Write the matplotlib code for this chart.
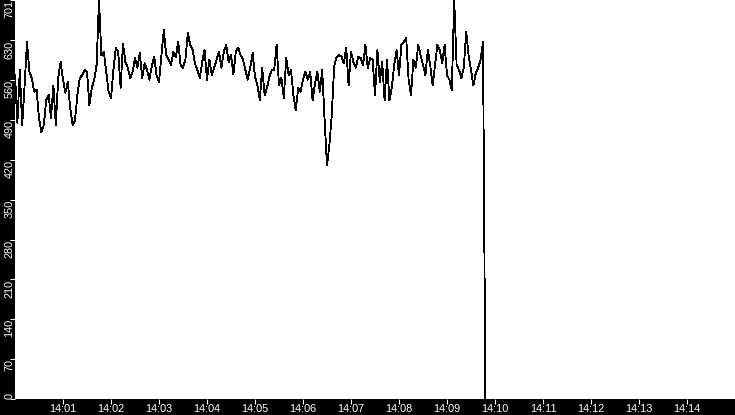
import numpy as np
import matplotlib
matplotlib.use("Agg")
import matplotlib.pyplot as plt
import matplotlib.dates as mdates

# one sample every 3 s from 14:00:00
vals_min0 = [569, 485, 578, 481, 551, 627, 575, 564, 540, 543, 494, 469, 481, 525, 534, 494, 551, 481, 564, 592, 561]
vals_min1 = [538, 557, 511, 481, 490, 534, 564, 569, 578, 575, 516, 547, 561, 587, 701, 604, 610, 575, 540, 529]
vals_min2 = [578, 617, 610, 547, 624, 592, 582, 564, 575, 599, 582, 608, 564, 590, 578, 561, 585, 601, 568, 557]
vals_min3 = [604, 648, 604, 596, 587, 610, 601, 627, 587, 582, 596, 643, 622, 613, 589, 578, 564, 592, 613, 561]
vals_min4 = [596, 569, 582, 596, 610, 582, 610, 622, 592, 604, 571, 610, 617, 604, 596, 578, 561, 582, 608, 566]
vals_min5 = [551, 525, 582, 534, 547, 566, 578, 578, 622, 551, 564, 529, 599, 569, 578, 534, 507, 547, 540, 561]
vals_min6 = [575, 561, 575, 525, 555, 575, 540, 578, 490, 411, 446, 500, 585, 601, 604, 602, 590, 617, 551, 610]
vals_min7 = [592, 582, 601, 599, 587, 622, 582, 599, 596, 534, 613, 557, 592, 525, 596, 525, 547, 587, 613, 569]
vals_min8 = [622, 627, 634, 561, 534, 596, 582, 622, 604, 587, 569, 613, 587, 551, 587, 622, 613, 590, 622, 569]
vals_min9 = [561, 543, 701, 587, 578, 564, 582, 645, 604, 578, 551, 573, 582, 596, 627, 0]

y_ticks = [0, 70, 140, 210, 280, 350, 420, 490, 560, 630, 701]
x_tick_labels = ["14:01", "14:02", "14:03", "14:04", "14:05", "14:06", "14:07",
                 "14:08", "14:09", "14:10", "14:11", "14:12", "14:13", "14:14"]

values = np.array(vals_min0 + vals_min1 + vals_min2 + vals_min3 + vals_min4
                  + vals_min5 + vals_min6 + vals_min7 + vals_min8 + vals_min9)
t0 = np.datetime64("2024-01-01T14:00:00")
times = t0 + np.arange(len(values)) * np.timedelta64(3, "s")

plt.rcParams["font.family"] = ["Liberation Sans", "DejaVu Sans"]

fig = plt.figure(figsize=(7.35, 4.15), dpi=100, facecolor="black")
ax = fig.add_axes([15 / 735, 16 / 415, 720 / 735, 399 / 415])
ax.set_facecolor("white")

ax.plot(times, values, color="black", lw=0.6, antialiased=False)

ax.set_xlim(t0, t0 + np.timedelta64(15, "m"))
ax.set_ylim(0, 701)

for s in ax.spines.values():
    s.set_visible(False)

xt = [t0 + np.timedelta64(i + 1, "m") for i in range(len(x_tick_labels))]
ax.set_xticks(xt)
ax.set_xticklabels(x_tick_labels)
ax.set_yticks(y_ticks)
ax.set_yticklabels([str(v) for v in y_ticks], rotation=90, va="top", ha="center")
ax.get_yticklabels()[0].set_va("bottom")

ax.tick_params(axis="both", colors="white", labelcolor="white", labelsize=7.8,
               length=3.6, width=0.75, direction="out")
ax.tick_params(axis="x", pad=0.3)
ax.tick_params(axis="y", pad=0.3)

fig.savefig("out.png", dpi=100, facecolor="black")
